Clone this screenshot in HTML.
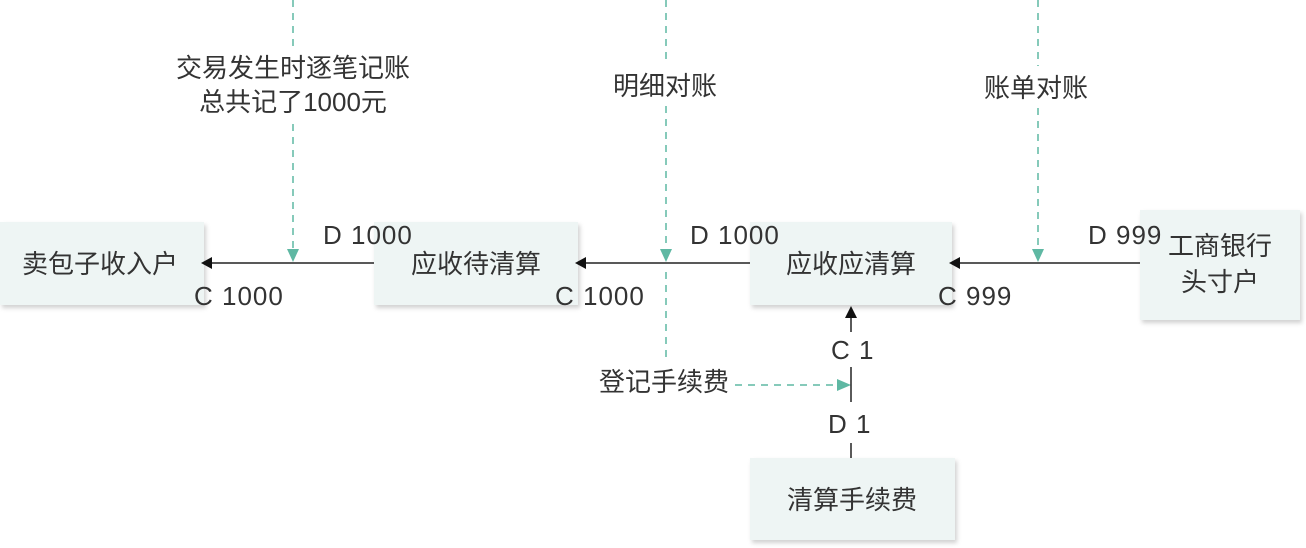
<!DOCTYPE html>
<html><head><meta charset="utf-8"><style>
body{margin:0;background:#fff;}
svg{display:block;font-family:"Liberation Sans","Noto Sans CJK SC",sans-serif;}
</style></head><body>
<svg width="1306" height="548" viewBox="0 0 1306 548">
<defs>
<filter id="sh" x="-10%" y="-10%" width="125%" height="130%"><feDropShadow dx="2" dy="3" stdDeviation="2" flood-color="#000" flood-opacity="0.18"/></filter>
</defs>
<g fill="#eef5f4" filter="url(#sh)">
<rect x="0" y="222" width="204" height="83"/>
<rect x="374" y="222" width="204" height="83"/>
<rect x="750" y="222" width="202" height="83"/>
<rect x="1140" y="210" width="160" height="110"/>
<rect x="750" y="458" width="205" height="82"/>
</g>
<g stroke="#5fb8a3" stroke-width="1.5" stroke-dasharray="7,6" fill="none">
<line x1="293" y1="0" x2="293" y2="48"/>
<line x1="293" y1="124" x2="293" y2="250"/>
<line x1="666" y1="0" x2="666" y2="64"/>
<line x1="666" y1="106" x2="666" y2="250"/>
<line x1="666" y1="272" x2="666" y2="362"/>
<line x1="1038" y1="0" x2="1038" y2="66"/>
<line x1="1038" y1="108" x2="1038" y2="250"/>
<line x1="735" y1="385" x2="838" y2="385"/>
</g>
<g fill="#5fb8a3">
<polygon points="287,249 299,249 293,262"/>
<polygon points="660,249 672,249 666,262"/>
<polygon points="1032,249 1044,249 1038,262"/>
<polygon points="837,379 837,391 851,385"/>
</g>
<g stroke="#222" stroke-width="1.5">
<line x1="210" y1="263" x2="374" y2="263"/>
<line x1="584" y1="263" x2="750" y2="263"/>
<line x1="958" y1="263" x2="1140" y2="263"/>
<line x1="851" y1="316" x2="851" y2="332"/>
<line x1="851" y1="367" x2="851" y2="402"/>
<line x1="851" y1="443" x2="851" y2="458"/>
</g>
<g fill="#111">
<polygon points="201,263 212,257 212,269"/>
<polygon points="575,263 586,257 586,269"/>
<polygon points="949,263 960,257 960,269"/>
<polygon points="851,306 845,318 857,318"/>
</g>
<g font-size="26" fill="#333" text-anchor="middle">
<text x="100" y="273">卖包子收入户</text>
<text x="476" y="273">应收待清算</text>
<text x="851" y="273">应收应清算</text>
<text x="1220" y="255">工商银行</text>
<text x="1220" y="291">头寸户</text>
<text x="852" y="509">清算手续费</text>
<text x="293" y="77">交易发生时逐笔记账</text>
<text x="293" y="111">总共记了1000元</text>
<text x="665" y="95">明细对账</text>
<text x="1036" y="97">账单对账</text>
<text x="664" y="391">登记手续费</text>
</g>
<g font-size="26" fill="#333" letter-spacing="1">
<text x="323" y="244">D 1000</text>
<text x="194" y="305">C 1000</text>
<text x="690" y="244">D 1000</text>
<text x="555" y="305">C 1000</text>
<text x="1088" y="244">D 999</text>
<text x="938" y="305">C 999</text>
<text x="831" y="359">C 1</text>
<text x="828" y="433">D 1</text>
</g>
</svg>
</body></html>
